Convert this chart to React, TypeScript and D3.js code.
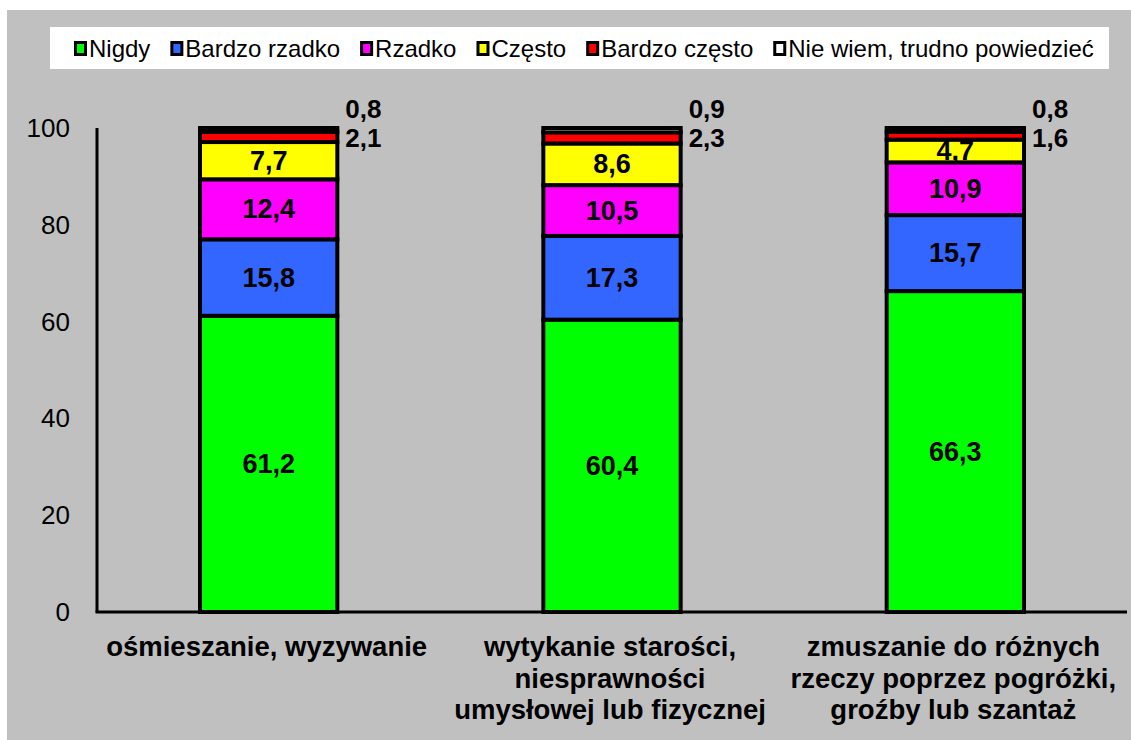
import React from "react";
import * as d3 from "d3";

const categories = [
  ["ośmieszanie, wyzywanie"],
  ["wytykanie starości,", "niesprawności", "umysłowej lub fizycznej"],
  ["zmuszanie do różnych", "rzeczy poprzez pogróżki,", "groźby lub szantaż"],
];
const seriesNames = ["Nigdy", "Bardzo rzadko", "Rzadko", "Często", "Bardzo często", "Nie wiem, trudno powiedzieć"];
const nigdy = [61.2, 60.4, 66.3];
const bardzoRzadko = [15.8, 17.3, 15.7];
const rzadko = [12.4, 10.5, 10.9];
const czesto = [7.7, 8.6, 4.7];
const bardzoCzesto = [2.1, 2.3, 1.6];
const nieWiem = [0.8, 0.9, 0.8];
const yTicks = [0, 20, 40, 60, 80, 100];

const colors = ["#00FF00", "#3366FF", "#FF00FF", "#FFFF00", "#FF0000", "#FFFFFF"];

const W = 1131;
const H = 740;
const plot = { left: 97, right: 1127, top: 128, bottom: 612 };

function measure(text: string, font: string): number {
  const c = document.createElement("canvas");
  const ctx = c.getContext("2d")!;
  ctx.font = font;
  return ctx.measureText(text).width;
}

export default function App() {
  const series = [nigdy, bardzoRzadko, rzadko, czesto, bardzoCzesto, nieWiem];
  const x = d3
    .scaleBand<number>()
    .domain(categories.map((_, i) => i))
    .range([plot.left, plot.right])
    .paddingInner(0.6)
    .paddingOuter(0.3);
  const y = d3.scaleLinear().domain([0, 100]).range([plot.bottom, plot.top]);

  const rows = categories.map((_, i) => {
    const r: any = { idx: i };
    series.forEach((s, k) => (r["s" + k] = s[i]));
    return r;
  });
  const stack = d3.stack<any>().keys(series.map((_, k) => "s" + k))(rows);

  const fmt = (v: number) => v.toFixed(1).replace(".", ",");

  const legendFont = "24px 'Liberation Sans', Arial, sans-serif";
  let lx = 74;
  const legendItems = seriesNames.map((name, k) => {
    const w = measure(name, legendFont);
    const item = { name, k, x: lx };
    lx += 13 + 2 + w + 20;
    return item;
  });

  return (
    <svg width={W} height={H} style={{ position: "absolute", left: 0, top: 0 }}>
      <rect x={0} y={0} width={W} height={H} fill="#FFFFFF" />
      <rect x={7} y={10} width={W - 7} height={H - 10} fill="#C0C0C0" />
      <rect x={50} y={27} width={1059} height={42} fill="#FFFFFF" />
      {legendItems.map((it) => (
        <g key={it.name}>
          <rect x={it.x + 1.5} y={42.5} width={10} height={12} fill={colors[it.k]} stroke="#000" strokeWidth={3} />
          <text
            x={it.x + 15}
            y={57}
            fontFamily="'Liberation Sans', Arial, sans-serif"
            fontSize={24}
            fill="#000"
          >
            {it.name}
          </text>
        </g>
      ))}
      {yTicks.map((t) => (
        <text
          key={t}
          x={70}
          y={y(t)}
          textAnchor="end"
          dominantBaseline="central"
          fontFamily="'Liberation Sans', Arial, sans-serif"
          fontSize={26}
          fill="#000"
        >
          {t}
        </text>
      ))}
      {stack.map((layer, k) =>
        layer.map((d, i) => (
          <rect
            key={k + "-" + i}
            x={x(i)!}
            y={y(d[1])}
            width={x.bandwidth()}
            height={y(d[0]) - y(d[1])}
            fill={colors[k]}
            stroke="#000"
            strokeWidth={4}
          />
        ))
      )}
      <line x1={plot.left} x2={plot.left} y1={plot.top} y2={plot.bottom} stroke="#000" strokeWidth={3} />
      <line x1={plot.left - 1.5} x2={plot.right} y1={plot.bottom} y2={plot.bottom} stroke="#000" strokeWidth={3} />
      {stack.map((layer, k) =>
        layer.map((d, i) => {
          const v = series[k][i];
          const inside = k < 4;
          const cx = inside ? x(i)! + x.bandwidth() / 2 : x(i)! + x.bandwidth() + 8;
          const cy = inside ? (y(d[0]) + y(d[1])) / 2 : k === 5 ? y(100) - 19 : y(100) + 10;
          return (
            <text
              key={"l" + k + "-" + i}
              x={cx}
              y={cy}
              textAnchor={inside ? "middle" : "start"}
              dominantBaseline="central"
              fontFamily="'Liberation Sans', Arial, sans-serif"
              fontWeight="bold"
              fontSize={inside ? 27 : 26}
              fill="#000"
            >
              {fmt(v)}
            </text>
          );
        })
      )}
      {categories.map((lines, i) => (
        <g key={"c" + i}>
          {lines.map((ln, j) => (
            <text
              key={j}
              x={x(i)! + x.bandwidth() / 2 - 2}
              y={656 + j * 31.5}
              textAnchor="middle"
              fontFamily="'Liberation Sans', Arial, sans-serif"
              fontWeight="bold"
              fontSize={27.5}
              fill="#000"
            >
              {ln}
            </text>
          ))}
        </g>
      ))}
    </svg>
  );
}
